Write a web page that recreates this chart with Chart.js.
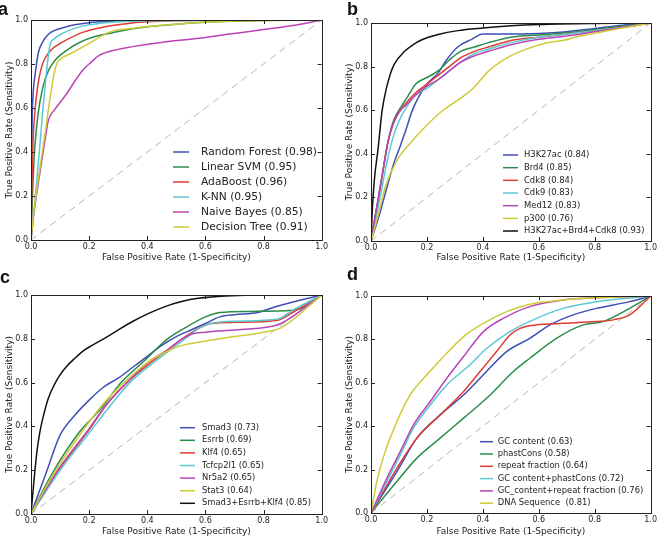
<!DOCTYPE html>
<html>
<head>
<meta charset="utf-8">
<script src="https://cdn.jsdelivr.net/npm/chart.js@4.4.1/dist/chart.umd.min.js"></script>
<style>
  body { margin: 0; background: #fff; }
  #wrap { position: relative; width: 659px; height: 536px; overflow: hidden; }
  canvas { position: absolute; }
  .tag { position: absolute; font: bold 18px "Liberation Sans", Arial, sans-serif; line-height: 18px; color: #111; }
</style>
</head>
<body>
<div id="wrap">
  <canvas id="chartA" width="330" height="268" style="left:0;top:0"></canvas>
  <canvas id="chartB" width="329" height="268" style="left:330px;top:0"></canvas>
  <canvas id="chartC" width="330" height="268" style="left:0;top:268px"></canvas>
  <canvas id="chartD" width="329" height="268" style="left:330px;top:268px"></canvas>
  <div class="tag" style="left:-2px;top:0">a</div>
  <div class="tag" style="left:347px;top:0">b</div>
  <div class="tag" style="left:0;top:268px">c</div>
  <div class="tag" style="left:347px;top:265px">d</div>
</div>
<script>
// ROC curves, points are [fpr, tpr]
const ticksVals = [0, 0.2, 0.4, 0.6, 0.8, 1.0];
const diagonal = [[0, 0], [1, 1]];
const colors = ['#3f4fb5', '#2a8c4a', '#dd3b33', '#5cc8d0', '#b845b8', '#cfca37', '#111111'];

// a: classifiers
const aLabels = ['Random Forest (0.98)', 'Linear SVM (0.95)', 'AdaBoost (0.96)', 'K-NN (0.95)', 'Naive Bayes (0.85)', 'Decision Tree (0.91)'];
const aRandomForest = [[0,0],[0.002,0.35],[0.004,0.55],[0.008,0.68],[0.015,0.76],[0.025,0.85],[0.04,0.9],[0.06,0.935],[0.08,0.952],[0.11,0.965],[0.15,0.978],[0.2,0.988],[0.27,0.994],[0.35,0.998],[0.5,1],[1,1]];
const aLinearSVM = [[0,0],[0.005,0.2],[0.012,0.4],[0.023,0.56],[0.04,0.69],[0.06,0.77],[0.085,0.82],[0.12,0.86],[0.17,0.9],[0.22,0.925],[0.28,0.942],[0.35,0.96],[0.45,0.975],[0.6,0.99],[0.8,0.998],[1,1]];
const aAdaBoost = [[0,0],[0.003,0.25],[0.007,0.45],[0.012,0.56],[0.022,0.69],[0.035,0.78],[0.05,0.83],[0.07,0.865],[0.09,0.885],[0.13,0.915],[0.18,0.945],[0.25,0.968],[0.32,0.982],[0.4,0.992],[0.6,0.999],[1,1]];
const aKNN = [[0,0],[0.008,0.1],[0.015,0.2],[0.028,0.39],[0.04,0.58],[0.05,0.72],[0.058,0.82],[0.066,0.89],[0.08,0.915],[0.11,0.94],[0.15,0.962],[0.2,0.978],[0.28,0.99],[0.4,0.997],[1,1]];
const aNaiveBayes = [[0,0],[0.01,0.12],[0.03,0.3],[0.05,0.47],[0.06,0.545],[0.08,0.59],[0.1,0.625],[0.12,0.66],[0.14,0.7],[0.16,0.74],[0.18,0.775],[0.2,0.8],[0.236,0.84],[0.29,0.864],[0.35,0.879],[0.46,0.9],[0.58,0.917],[0.69,0.937],[0.8,0.957],[0.9,0.975],[1,1]];
const aDecisionTree = [[0,0],[0.01,0.13],[0.03,0.32],[0.05,0.5],[0.065,0.64],[0.08,0.76],[0.09,0.805],[0.11,0.83],[0.14,0.85],[0.2,0.894],[0.27,0.945],[0.35,0.962],[0.46,0.977],[0.7,0.995],[1,1]];

// b: ChIP marks
const bLabels = ['H3K27ac (0.84)', 'Brd4 (0.85)', 'Cdk8 (0.84)', 'Cdk9 (0.83)', 'Med12 (0.83)', 'p300 (0.76)', 'H3K27ac+Brd4+Cdk8 (0.93)'];
const bH3K27ac = [[0,0],[0.03,0.12],[0.06,0.26],[0.08,0.35],[0.1,0.42],[0.125,0.51],[0.145,0.59],[0.17,0.66],[0.2,0.72],[0.24,0.77],[0.27,0.83],[0.31,0.89],[0.36,0.925],[0.4,0.95],[0.5,0.95],[0.6,0.952],[0.7,0.96],[0.8,0.975],[0.9,0.99],[1,1]];
const bBrd4 = [[0,0],[0.02,0.15],[0.04,0.3],[0.06,0.45],[0.08,0.55],[0.1,0.6],[0.13,0.66],[0.16,0.72],[0.2,0.75],[0.24,0.78],[0.28,0.83],[0.32,0.87],[0.37,0.89],[0.42,0.91],[0.5,0.935],[0.6,0.945],[0.7,0.955],[0.8,0.97],[0.9,0.985],[1,1]];
const bCdk8 = [[0,0],[0.02,0.15],[0.04,0.3],[0.06,0.45],[0.08,0.54],[0.1,0.59],[0.13,0.64],[0.16,0.68],[0.2,0.72],[0.24,0.76],[0.28,0.8],[0.32,0.84],[0.37,0.87],[0.42,0.89],[0.5,0.92],[0.6,0.935],[0.7,0.95],[0.8,0.965],[0.9,0.98],[1,1]];
const bCdk9 = [[0,0],[0.02,0.12],[0.04,0.25],[0.06,0.38],[0.08,0.48],[0.1,0.55],[0.13,0.62],[0.16,0.67],[0.2,0.7],[0.24,0.74],[0.28,0.78],[0.32,0.82],[0.37,0.86],[0.42,0.88],[0.5,0.91],[0.6,0.935],[0.7,0.95],[0.8,0.965],[0.9,0.98],[1,1]];
const bMed12 = [[0,0],[0.02,0.15],[0.04,0.3],[0.06,0.45],[0.08,0.54],[0.1,0.59],[0.13,0.63],[0.16,0.67],[0.2,0.71],[0.24,0.74],[0.28,0.78],[0.32,0.82],[0.37,0.85],[0.42,0.87],[0.5,0.9],[0.6,0.925],[0.7,0.94],[0.8,0.96],[0.9,0.98],[1,1]];
const bP300 = [[0,0],[0.027,0.126],[0.051,0.248],[0.093,0.371],[0.14,0.448],[0.2,0.532],[0.259,0.601],[0.33,0.663],[0.365,0.701],[0.425,0.785],[0.496,0.847],[0.567,0.885],[0.626,0.908],[0.686,0.92],[0.745,0.939],[0.864,0.969],[1,1]];
const bCombined = [[0,0],[0.005,0.15],[0.012,0.28],[0.025,0.42],[0.04,0.6],[0.055,0.7],[0.07,0.77],[0.085,0.815],[0.12,0.87],[0.15,0.9],[0.18,0.922],[0.24,0.947],[0.31,0.965],[0.4,0.977],[0.5,0.987],[0.6,0.993],[0.8,0.998],[1,1]];

// c: transcription factors
const cLabels = ['Smad3 (0.73)', 'Esrrb (0.69)', 'Klf4 (0.65)', 'Tcfcp2l1 (0.65)', 'Nr5a2 (0.65)', 'Stat3 (0.64)', 'Smad3+Esrrb+Klf4 (0.85)'];
const cSmad3 = [[0,0],[0.05,0.18],[0.1,0.36],[0.15,0.45],[0.2,0.52],[0.25,0.58],[0.3,0.62],[0.35,0.67],[0.4,0.72],[0.45,0.77],[0.5,0.81],[0.55,0.84],[0.6,0.87],[0.65,0.9],[0.7,0.91],[0.78,0.92],[0.85,0.95],[1,1]];
const cEsrrb = [[0,0],[0.05,0.13],[0.1,0.245],[0.17,0.38],[0.24,0.48],[0.31,0.6],[0.39,0.7],[0.47,0.8],[0.53,0.85],[0.6,0.9],[0.65,0.92],[0.75,0.925],[0.9,0.93],[0.95,0.95],[1,1]];
const cKlf4 = [[0,0],[0.05,0.11],[0.1,0.21],[0.2,0.385],[0.26,0.5],[0.33,0.6],[0.42,0.7],[0.47,0.75],[0.52,0.8],[0.58,0.85],[0.62,0.87],[0.7,0.875],[0.85,0.885],[0.9,0.92],[1,1]];
const cTcfcp2l1 = [[0,0],[0.05,0.1],[0.1,0.2],[0.2,0.37],[0.27,0.49],[0.34,0.6],[0.43,0.7],[0.48,0.75],[0.53,0.8],[0.58,0.85],[0.62,0.87],[0.7,0.88],[0.85,0.89],[0.9,0.93],[1,1]];
const cNr5a2 = [[0,0],[0.05,0.11],[0.1,0.215],[0.2,0.39],[0.26,0.5],[0.33,0.6],[0.41,0.7],[0.47,0.75],[0.52,0.8],[0.55,0.82],[0.6,0.83],[0.7,0.84],[0.82,0.855],[0.86,0.87],[1,1]];
const cStat3 = [[0,0],[0.05,0.12],[0.1,0.23],[0.2,0.42],[0.26,0.52],[0.32,0.6],[0.41,0.7],[0.48,0.75],[0.52,0.77],[0.6,0.79],[0.7,0.81],[0.8,0.83],[0.86,0.85],[1,1]];
const cCombined = [[0,0],[0.01,0.15],[0.02,0.28],[0.03,0.37],[0.045,0.46],[0.06,0.53],[0.08,0.59],[0.1,0.635],[0.12,0.67],[0.15,0.71],[0.18,0.745],[0.21,0.77],[0.25,0.8],[0.291,0.833],[0.348,0.878],[0.405,0.916],[0.461,0.947],[0.518,0.97],[0.575,0.985],[0.688,0.997],[0.8,1],[1,1]];

// d: sequence features
const dLabels = ['GC content (0.63)', 'phastCons (0.58)', 'repeat fraction (0.64)', 'GC content+phastCons (0.72)', 'GC_content+repeat fraction (0.76)', 'DNA Sequence  (0.81)'];
const dGCContent = [[0,0],[0.093,0.192],[0.164,0.345],[0.247,0.452],[0.331,0.544],[0.39,0.621],[0.485,0.744],[0.568,0.805],[0.64,0.867],[0.723,0.913],[0.806,0.943],[0.925,0.974],[1,1]];
const dPhastCons = [[0,0],[0.093,0.146],[0.164,0.253],[0.247,0.345],[0.331,0.437],[0.426,0.544],[0.509,0.652],[0.568,0.713],[0.663,0.805],[0.759,0.867],[0.83,0.882],[0.925,0.943],[1,1]];
const dRepeat = [[0,0],[0.093,0.207],[0.164,0.345],[0.247,0.452],[0.331,0.56],[0.39,0.652],[0.449,0.744],[0.497,0.82],[0.533,0.851],[0.592,0.867],[0.687,0.874],[0.806,0.882],[0.866,0.89],[0.925,0.913],[1,1]];
const dGCPhast = [[0,0],[0.057,0.146],[0.105,0.268],[0.152,0.391],[0.212,0.498],[0.271,0.59],[0.354,0.683],[0.414,0.759],[0.497,0.836],[0.592,0.897],[0.687,0.943],[0.806,0.974],[1,1]];
const dGCRepeat = [[0,0],[0.057,0.161],[0.105,0.284],[0.152,0.406],[0.212,0.514],[0.271,0.621],[0.331,0.721],[0.402,0.836],[0.473,0.897],[0.568,0.951],[0.687,0.982],[0.806,0.992],[1,1]];
const dDNASeq = [[0,0],[0.021,0.146],[0.051,0.284],[0.093,0.422],[0.14,0.544],[0.2,0.637],[0.271,0.736],[0.331,0.813],[0.402,0.874],[0.485,0.928],[0.568,0.962],[0.687,0.982],[0.806,0.992],[1,1]];

Chart.defaults.font.family = '"DejaVu Sans", sans-serif';
Chart.defaults.color = '#222';

// frame, inward ticks on all four sides, and legend without box
const rocPlugin = {
  id: 'roclegend',
  afterDatasetsDraw(chart, args, opts) {
    const ctx = chart.ctx;
    const a = chart.chartArea;
    const xs = chart.scales.x, ys = chart.scales.y;
    ctx.save();
    ctx.strokeStyle = '#222';
    ctx.lineWidth = 1;
    ctx.beginPath();
    ticksVals.forEach(v => {
      const px = Math.round(xs.getPixelForValue(v)) + 0.5;
      const py = Math.round(ys.getPixelForValue(v)) + 0.5;
      ctx.moveTo(px, a.bottom); ctx.lineTo(px, a.bottom - 4);
      ctx.moveTo(px, a.top); ctx.lineTo(px, a.top + 4);
      ctx.moveTo(a.left, py); ctx.lineTo(a.left + 4, py);
      ctx.moveTo(a.right, py); ctx.lineTo(a.right - 4, py);
    });
    ctx.stroke();
    ctx.strokeRect(Math.round(a.left) + 0.5, Math.round(a.top) + 0.5, Math.round(a.right - a.left), Math.round(a.bottom - a.top));

    ctx.font = opts.size + 'px "DejaVu Sans"';
    ctx.textBaseline = 'middle';
    ctx.textAlign = 'left';
    let row = 0;
    chart.data.datasets.forEach(ds => {
      if (ds.skipLegend) return;
      const y = opts.y + row * opts.dy;
      ctx.strokeStyle = ds.borderColor;
      ctx.lineWidth = 1.5;
      ctx.beginPath();
      ctx.moveTo(opts.x, y); ctx.lineTo(opts.x + opts.len, y);
      ctx.stroke();
      ctx.fillStyle = '#222';
      ctx.fillText(ds.label, opts.textX, y);
      row++;
    });
    ctx.restore();
  }
};

function toXY(pts) {
  return pts.map(p => ({ x: p[0], y: p[1] }));
}

function makeRoc(id, labels, series, lay) {
  const n = series.length;
  const datasets = series.map((s, i) => ({
    label: labels[i],
    data: toXY(s),
    borderColor: colors[i],
    borderWidth: 1.5,
    pointRadius: 0,
    cubicInterpolationMode: 'monotone',
    order: n - i
  }));
  datasets.push({
    label: 'chance',
    data: toXY(diagonal),
    borderColor: '#b4b4b4',
    borderWidth: 1,
    borderDash: [7, 5],
    pointRadius: 0,
    order: 100,
    skipLegend: true
  });

  new Chart(document.getElementById(id), {
    type: 'line',
    data: { datasets },
    options: {
      responsive: false,
      animation: false,
      layout: { padding: { top: lay.top, right: lay.right, left: 0, bottom: 0 } },
      plugins: {
        legend: { display: false },
        tooltip: { enabled: false },
        roclegend: lay.legend
      },
      scales: {
        x: {
          type: 'linear', min: 0, max: 1,
          grid: { display: false, drawTicks: false },
          border: { display: false },
          afterFit: s => { s.height = lay.xh; },
          afterBuildTicks: s => { s.ticks = ticksVals.map(v => ({ value: v })); },
          ticks: { autoSkip: false, maxRotation: 0, padding: 2, font: { size: 8 }, callback: v => v.toFixed(1) },
          title: { display: true, text: 'False Positive Rate (1-Specificity)', font: { size: 9, lineHeight: 1 }, padding: { top: 0, bottom: lay.xtPad } }
        },
        y: {
          type: 'linear', min: 0, max: 1,
          grid: { display: false, drawTicks: false },
          border: { display: false },
          afterFit: s => { s.width = lay.yw; },
          afterBuildTicks: s => { s.ticks = ticksVals.map(v => ({ value: v })); },
          ticks: { autoSkip: false, padding: 3, font: { size: 8 }, callback: v => v.toFixed(1) },
          title: { display: true, text: 'True Positive Rate (Sensitivity)', font: { size: 9, lineHeight: 1 }, padding: { top: lay.ytPad, bottom: 0 } }
        }
      }
    },
    plugins: [rocPlugin]
  });
}

makeRoc('chartA', aLabels, [aRandomForest, aLinearSVM, aAdaBoost, aKNN, aNaiveBayes, aDecisionTree],
  { top: 20, right: 5, yw: 31, xh: 28, xtPad: 5.8, ytPad: 5,
    legend: { x: 173, len: 16, textX: 201, y: 152, dy: 15, size: 10.7 } });

makeRoc('chartB', bLabels, [bH3K27ac, bBrd4, bCdk8, bCdk9, bMed12, bP300, bCombined],
  { top: 23, right: 7, yw: 41, xh: 27, xtPad: 5.8, ytPad: 15.5,
    legend: { x: 173, len: 15, textX: 194, y: 155, dy: 12.67, size: 8.4 } });

makeRoc('chartC', cLabels, [cSmad3, cEsrrb, cKlf4, cTcfcp2l1, cNr5a2, cStat3, cCombined],
  { top: 27, right: 5, yw: 31, xh: 22, xtPad: 0, ytPad: 5.5,
    legend: { x: 180, len: 15, textX: 202, y: 159.7, dy: 12.6, size: 8.4 } });

makeRoc('chartD', dLabels, [dGCContent, dPhastCons, dRepeat, dGCPhast, dGCRepeat, dDNASeq],
  { top: 28, right: 8, yw: 41, xh: 23, xtPad: 0, ytPad: 15.5,
    legend: { x: 150, len: 13, textX: 167.7, y: 173.7, dy: 12.3, size: 8.4 } });
</script>
</body>
</html>
